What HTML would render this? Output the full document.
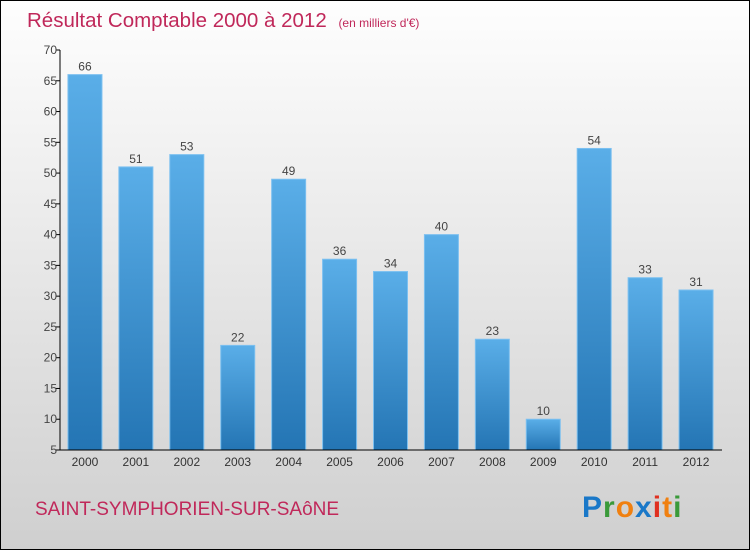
<!DOCTYPE html>
<html><head><meta charset="utf-8"><style>
html,body{margin:0;padding:0}
body{width:750px;height:550px;overflow:hidden;font-family:"Liberation Sans",sans-serif}
</style></head><body>
<svg width="750" height="550" xmlns="http://www.w3.org/2000/svg">
<defs>
<linearGradient id="bg" x1="0" y1="0" x2="0" y2="1"><stop offset="0" stop-color="#fefefe"/><stop offset="1" stop-color="#cfcfcf"/></linearGradient>
<linearGradient id="bar" x1="0" y1="0" x2="0" y2="1"><stop offset="0" stop-color="#5aaee8"/><stop offset="1" stop-color="#2475b4"/></linearGradient>
</defs>
<rect x="0.5" y="0.5" width="749" height="549" fill="url(#bg)" stroke="#000"/>
<text x="27" y="27" font-size="20.5" fill="#c0285a">Résultat Comptable 2000 à 2012 <tspan font-size="12" dx="6">(en milliers d'€)</tspan></text>
<g id="plot"></g>
<text x="35" y="515" font-size="19" fill="#c0285a">SAINT-SYMPHORIEN-SUR-SAôNE</text>
<text x="582" y="517" font-size="30" font-weight="bold" letter-spacing="1"><tspan fill="#1a78c8">P</tspan><tspan fill="#3a9a3a">r</tspan><tspan fill="#f08010">o</tspan><tspan fill="#1a78c8">x</tspan><tspan fill="#e03020">i</tspan><tspan fill="#f08010">t</tspan><tspan fill="#3a9a3a">i</tspan></text>
</svg>
<script>
const years=["2000","2001","2002","2003","2004","2005","2006","2007","2008","2009","2010","2011","2012"];
const values=[66,51,53,22,49,36,34,40,23,10,54,33,31];
const yTicks=[5,10,15,20,25,30,35,40,45,50,55,60,65,70];
const NS="http://www.w3.org/2000/svg";
const g=document.getElementById('plot');
const x0=60,x1=722,yTop=50,yBot=450,yMin=5,yMax=70;
const y=v=>yBot-(v-yMin)/(yMax-yMin)*(yBot-yTop);
const step=(x1-x0)/years.length;
const xc=i=>x0+step*(i+0.5)-0.5;
function mk(t,a){const e=document.createElementNS(NS,t);for(const k in a)e.setAttribute(k,a[k]);g.appendChild(e);return e;}
values.forEach((v,i)=>{
 const r=mk('rect',{x:xc(i)-17,y:y(v),width:34,height:yBot-y(v),fill:'url(#bar)',stroke:'#7cc0f0','stroke-width':1});
 
 
 const t=mk('text',{x:xc(i),y:y(v)-4,'text-anchor':'middle','font-size':12,fill:'#444'});t.textContent=v;
 
 
 const l=mk('text',{x:xc(i),y:466,'text-anchor':'middle','font-size':12,fill:'#333'});l.textContent=years[i];
 
 
});
yTicks.forEach(v=>{
 mk('line',{x1:x0-4,x2:x0,y1:y(v),y2:y(v),stroke:'#000'});
 const t=mk('text',{x:x0-3,y:y(v)+4,'text-anchor':'end','font-size':12,fill:'#444'});t.textContent=v;
 
 
});
const ya=mk('line',{x1:x0,x2:x0,y1:yTop,y2:yBot,stroke:'#000'});


const xa=mk('line',{x1:x0,x2:x1,y1:yBot,y2:yBot,stroke:'#000'});


</script>
</body></html>
